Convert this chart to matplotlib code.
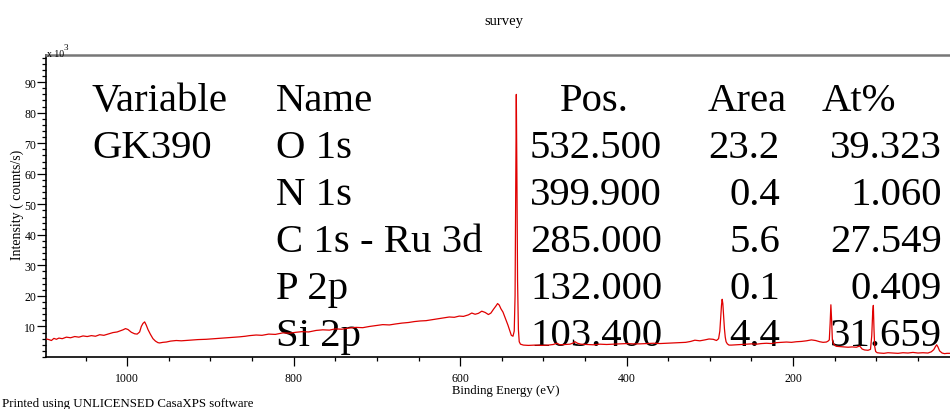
import matplotlib
matplotlib.use("Agg")
import matplotlib.pyplot as plt
from matplotlib.ticker import MultipleLocator, FixedLocator

plt.rcParams['font.family'] = ['Liberation Serif', 'DejaVu Serif']

# Survey spectrum: binding energy (eV) and intensity (x 10^3 counts/s)
binding_energy = [
    1097, 1094, 1091, 1088, 1085, 1082, 1078, 1073, 1068, 1063, 1058, 1053,
    1048, 1043, 1038, 1033, 1028, 1023, 1017, 1012, 1009, 1005, 1002, 999,
    995, 991, 988, 985, 983, 981, 979, 977, 975, 972, 969, 966, 963, 961,
    957, 953, 948, 941, 935, 925, 915, 905, 895, 885, 875, 865, 858, 853,
    845, 838, 830, 822, 813, 805, 797, 790, 782, 773, 765, 757, 750, 742,
    733, 725, 717, 709, 701, 693, 685, 678, 670, 662, 655, 648, 641, 634,
    627, 620, 613, 607, 601, 596, 590, 586, 582, 578, 574, 570, 566, 563,
    560, 557, 555, 553, 551, 548.5, 545.5, 542.5, 540, 538.5, 536.5, 535,
    534, 533.2, 532.5, 531.8, 531, 530, 529, 527.5, 524, 518, 510, 502,
    494, 488, 484, 480, 474, 468, 464, 462, 459, 455, 448, 440, 432, 424,
    416, 408, 400, 392, 384, 376, 368, 360, 352, 344, 336, 329, 323, 318,
    312, 306, 301, 296, 292, 289.5, 288, 287, 286, 285.2, 284.4, 283.5,
    282.5, 281.5, 280.5, 279, 277, 274, 268, 262, 256, 250, 244, 238, 232,
    226, 220, 214, 208, 202, 196, 190, 184, 178, 173, 168, 164, 160, 158,
    156.5, 155.5, 154.6, 153.7, 152.8, 151.5, 150, 148, 144, 139, 134, 129,
    124, 120, 117, 114, 110, 107, 105.5, 104.4, 103.6, 102.8, 102, 100.8,
    99, 96, 91, 86, 80, 74, 68, 62, 56, 50, 44, 38, 34, 31, 29, 27.5, 26,
    24, 21, 18, 15, 11,
]
intensity_k = [
    5.9, 5.7, 5.4, 6.1, 5.8, 6.2, 6.0, 6.5, 6.3, 6.7, 6.5, 6.9,
    6.7, 7.0, 6.8, 7.3, 7.1, 7.5, 8.0, 8.2, 8.5, 8.9, 9.3, 9.0,
    8.1, 7.6, 7.5, 8.2, 10.0, 11.0, 11.5, 10.4, 9.0, 7.4, 6.0, 5.2, 4.7, 4.6,
    4.8, 4.9, 5.2, 5.4, 5.3, 5.5, 5.7, 5.8, 6.0, 6.2, 6.4, 6.6, 6.8, 7.0,
    7.2, 7.1, 7.5, 7.4, 7.9, 7.8, 8.1, 8.3, 8.2, 8.7, 8.9, 8.8, 9.2, 9.1,
    9.5, 9.7, 9.6, 10.0, 10.3, 10.6, 10.5, 10.8, 11.1, 11.3, 11.6, 11.8, 11.9, 12.2,
    12.5, 12.8, 13.1, 13.0, 13.4, 13.3, 13.8, 14.4, 14.0, 14.3, 15.0, 14.6, 13.9, 14.4,
    15.6, 16.7, 17.5, 17.0, 15.8, 14.7, 12.6, 10.4, 8.3, 7.1, 6.8, 8.5,
    20.0, 55.0, 86.0, 60.0, 25.0, 9.0, 5.0, 4.2, 3.9, 3.8, 3.9, 3.8,
    3.9, 4.1, 4.5, 4.0, 4.1, 4.2, 4.6, 5.0, 4.5, 4.2, 4.1, 4.0, 4.2, 4.1,
    4.2, 4.3, 4.4, 4.3, 4.3, 4.4, 4.5, 4.4, 4.5, 4.6, 4.7, 4.8, 5.1, 5.5,
    5.3, 5.6, 5.9, 5.8, 5.4, 6.0, 8.5, 13.0, 17.0, 18.9, 17.5, 13.5,
    9.3, 6.5, 5.0, 4.3, 3.9, 3.9, 4.0, 4.1, 4.2, 4.3, 4.2, 4.4, 4.5,
    4.4, 4.7, 4.8, 4.9, 4.8, 5.0, 5.1, 5.3, 5.6, 5.4, 5.0, 4.8, 4.9, 5.2,
    5.6, 11.0, 17.1, 12.0, 5.5, 4.4, 3.8, 3.5, 3.4, 3.3, 3.2, 3.3,
    3.2, 3.6, 2.6, 2.3, 2.2, 2.5, 7.0, 14.5, 16.9, 9.0, 3.5, 1.8,
    1.4, 1.3, 1.2, 1.4, 1.3, 1.2, 1.4, 1.3, 1.5, 1.3, 1.4, 1.3, 1.7, 2.4, 3.4, 4.0, 3.3,
    2.0, 1.3, 1.1, 1.2, 1.2,
]

# Quantification table
table_header = ["Variable", "Name", "Pos.", "Area", "At%"]
sample_name = "GK390"
peak_names = ["O 1s", "N 1s", "C 1s - Ru 3d", "P 2p", "Si 2p"]
peak_positions = ["532.500", "399.900", "285.000", "132.000", "103.400"]
peak_areas = ["23.2", "0.4", "5.6", "0.1", "4.4"]
atomic_percent = ["39.323", "1.060", "27.549", "0.409", "31.659"]

W, H = 950, 410
fig = plt.figure(figsize=(W / 100, H / 100), dpi=100)
ax_left, ax_right, ax_top, ax_bottom = 46, 950, 56, 358
ax = fig.add_axes([ax_left / W, 1 - ax_bottom / H,
                   (ax_right - ax_left) / W, (ax_bottom - ax_top) / H])

ax.plot(binding_energy, intensity_k, color='#e00000', lw=0.9, zorder=3)

ax.set_xlim(1097.5, 11.5)
ax.set_ylim(0, 98.9)

ax.xaxis.set_major_locator(MultipleLocator(200))
ax.xaxis.set_minor_locator(MultipleLocator(50))
ax.yaxis.set_major_locator(FixedLocator([10, 20, 30, 40, 50, 60, 70, 80, 90]))
ax.yaxis.set_minor_locator(MultipleLocator(2))
ax.tick_params(axis='both', which='major', direction='out', length=6.5,
               width=0.9, labelsize=8.5, color='black')
ax.tick_params(axis='both', which='minor', direction='out', length=3,
               width=0.9, color='black')
ax.tick_params(axis='y', which='major', pad=0.5)
ax.tick_params(axis='x', which='major', pad=4.5)

for side in ('left', 'bottom'):
    ax.spines[side].set_color('black')
    ax.spines[side].set_linewidth(1.2)
ax.spines['right'].set_visible(False)
ax.spines['top'].set_color('#777777')
ax.spines['top'].set_linewidth(1.8)

# Axis titles and annotations (pixel-placed in figure coordinates)
def fx(px):
    return px / W

def fy(py):
    return 1 - py / H

fig.text(fx(504), fy(22), "survey", ha='center', va='center', fontsize=10.5)
fig.text(fx(47), fy(57), "x 10", ha='left', va='baseline', fontsize=7)
fig.text(fx(63.5), fy(50), "3", ha='left', va='baseline', fontsize=6.5)
fig.text(fx(17), fy(205), "Intensity ( counts/s)", rotation=90,
         ha='center', va='center', fontsize=10)
fig.text(fx(506), fy(391), "Binding Energy (eV)", ha='center', va='center',
         fontsize=9.2)
fig.text(fx(2), fy(404), "Printed using UNLICENSED CasaXPS software",
         ha='left', va='center', fontsize=9.3)

# Quantification table drawn under the spectrum trace
fs = 29.3
baselines = [111, 158, 205, 252, 299, 346]
kw = dict(transform=fig.transFigure, fontsize=fs, va='baseline',
          zorder=1, clip_on=False, color='black')
ax.text(fx(92), fy(baselines[0]), table_header[0], ha='left', **kw)
ax.text(fx(276), fy(baselines[0]), table_header[1], ha='left', **kw)
ax.text(fx(560), fy(baselines[0]), table_header[2], ha='left', **kw)
ax.text(fx(708), fy(baselines[0]), table_header[3], ha='left', **kw)
ax.text(fx(822), fy(baselines[0]), table_header[4], ha='left', **kw)
ax.text(fx(92), fy(baselines[1]), sample_name, ha='left', **kw)
for i in range(len(peak_names)):
    b = fy(baselines[i + 1])
    ax.text(fx(276), b, peak_names[i], ha='left', **kw)
    ax.text(fx(662), b, peak_positions[i], ha='right', **kw)
    ax.text(fx(780), b, peak_areas[i], ha='right', **kw)
    ax.text(fx(942), b, atomic_percent[i], ha='right', **kw)

fig.savefig("out.png", dpi=100)
